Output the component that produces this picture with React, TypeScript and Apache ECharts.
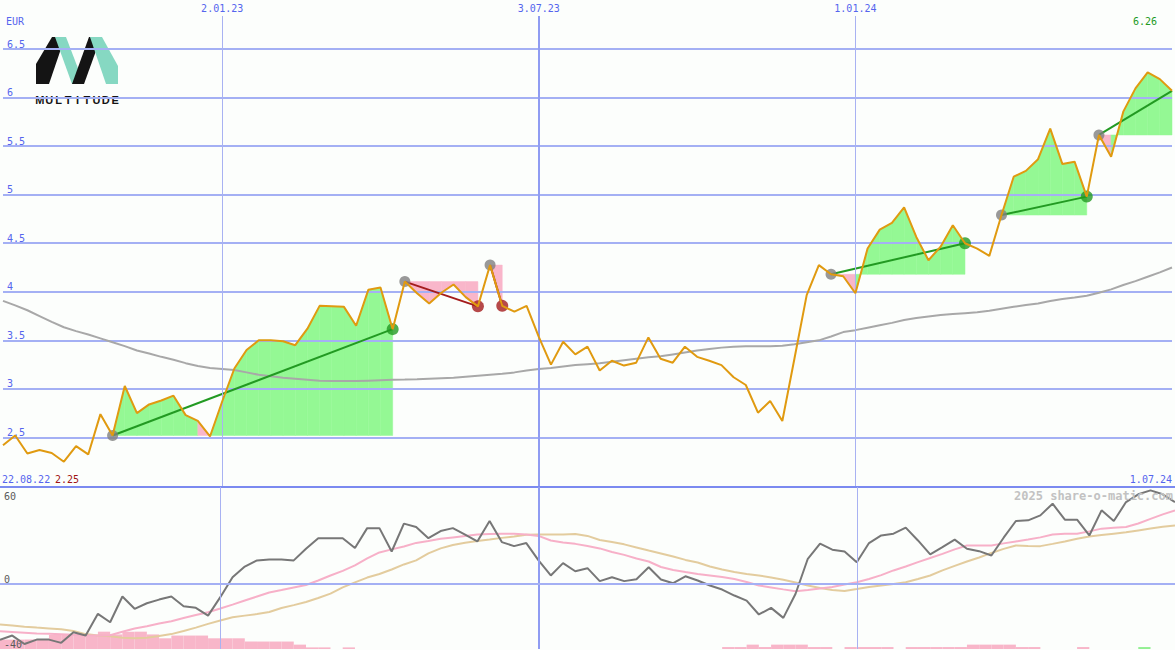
import React, { useEffect, useRef } from "react";
import * as echarts from "echarts";

// ---------- data ----------
const weekMin = 0;
const weekMax = 96;
const dateTickWeeks = [18, 44, 70];
const dateTickLabels = ["2.01.23", "3.07.23", "1.01.24"];
const periodStartLabel = "22.08.22";
const periodEndLabel = "1.07.24";
const currency = "EUR";
const watermark = "2025 share-o-matic.com";
const logoWord = "MULTITUDE";

const priceMin = 2;
const priceMax = 6.84;
const priceStep = 0.5;
const oscMin = -40;
const oscMax = 60;
const oscLabelValues = [-40, 0];
const oscTopLabel = 60;

const prices = [
  2.42, 2.52, 2.335, 2.37, 2.34, 2.25, 2.41, 2.325, 2.74, 2.52,
  3.03, 2.75, 2.84, 2.88, 2.93, 2.73, 2.67, 2.51, 2.87, 3.21,
  3.40, 3.50, 3.50, 3.49, 3.45, 3.62, 3.855, 3.85, 3.845, 3.65,
  4.02, 4.045, 3.615, 4.105, 3.985, 3.88, 3.99, 4.075, 3.945, 3.85,
  4.275, 3.855, 3.795, 3.855, 3.535, 3.25, 3.485, 3.355, 3.435, 3.19,
  3.29, 3.24, 3.27, 3.53, 3.31, 3.27, 3.435, 3.33, 3.29, 3.245,
  3.12, 3.04, 2.755, 2.875, 2.67, 3.315, 3.965, 4.275, 4.18, 4.16,
  3.985, 4.445, 4.64, 4.71, 4.87, 4.565, 4.325, 4.465, 4.685, 4.50,
  4.445, 4.37, 4.79, 5.185, 5.245, 5.365, 5.68, 5.315, 5.34, 4.98,
  5.615, 5.39, 5.855, 6.095, 6.26, 6.19, 6.07,
];

const priceAverage = [
  3.907, 3.86, 3.81, 3.75, 3.69, 3.635, 3.595, 3.56, 3.52, 3.48,
  3.44, 3.395, 3.365, 3.33, 3.30, 3.265, 3.235, 3.215, 3.205, 3.195,
  3.17, 3.145, 3.13, 3.115, 3.105, 3.095, 3.085, 3.08, 3.08, 3.08,
  3.085, 3.09, 3.095, 3.097, 3.10, 3.105, 3.11, 3.115, 3.125, 3.135,
  3.145, 3.155, 3.17, 3.19, 3.205, 3.215, 3.23, 3.245, 3.255, 3.265,
  3.28, 3.295, 3.31, 3.325, 3.335, 3.355, 3.375, 3.395, 3.41, 3.425,
  3.435, 3.44, 3.44, 3.44, 3.445, 3.46, 3.48, 3.50, 3.54, 3.585,
  3.605, 3.63, 3.655, 3.68, 3.71, 3.73, 3.745, 3.76, 3.77, 3.78,
  3.79, 3.805, 3.825, 3.845, 3.865, 3.88, 3.905, 3.925, 3.94, 3.96,
  3.99, 4.025, 4.07, 4.11, 4.155, 4.20, 4.25,
];

const momentum = [
  -34.4, -31.7, -36.9, -34.2, -34.2, -36.2, -29.7, -31.7, -18.3, -23.5,
  -7.6, -15.2, -11.75, -9.5, -7.6, -13.6, -14.6, -19.4, -8.0, 4.3,
  10.9, 14.7, 15.3, 15.3, 14.7, 21.9, 28.4, 28.4, 28.4, 22.3,
  34.6, 34.6, 20.2, 37.4, 35.3, 28.4, 32.8, 34.6, 30.6, 26.4,
  39.0, 26.0, 23.5, 25.4, 14.7, 5.4, 13.0, 8.0, 9.9, 1.9,
  4.3, 1.9, 3.1, 10.5, 2.9, 0.6, 4.9, 2.3, -0.8, -3.3,
  -7.0, -10.1, -18.7, -14.6, -20.8, -5.9, 15.7, 25.0, 21.3, 20.2,
  13.6, 25.4, 30.1, 31.2, 34.9, 27.0, 18.4, 22.9, 27.5, 21.9,
  20.4, 17.7, 28.7, 39.0, 39.4, 42.5, 49.7, 39.8, 39.8, 30.1,
  45.6, 39.0, 50.7, 55.5, 57.9, 55.5, 50.7,
];

const momentumFast = [
  -29.1, -29.5, -29.9, -30.4, -30.6, -30.9, -31.2, -31.5, -31.7, -31.5,
  -29.3, -27.4, -25.9, -24.3, -22.9, -20.9, -19.0, -17.3, -15.0, -12.6,
  -10.1, -7.6, -5.1, -3.6, -2.0, -0.5, 2.3, 5.4, 8.2, 11.6,
  15.9, 19.6, 21.5, 23.3, 25.5, 26.7, 28.0, 28.9, 29.8, 30.7,
  31.0, 31.2, 31.2, 30.7, 29.8, 27.0, 25.8, 24.9, 23.6, 22.1,
  19.9, 18.1, 15.9, 14.0, 10.6, 8.8, 7.5, 6.3, 5.4, 4.5,
  3.2, 1.4, -0.8, -2.0, -3.2, -4.3, -3.6, -2.7, -1.7, -0.2,
  1.2, 3.2, 5.6, 8.5, 10.9, 13.6, 16.2, 18.7, 21.5, 23.9,
  23.9, 23.9, 25.2, 26.4, 27.6, 28.9, 30.7, 31.2, 31.2, 32.6,
  34.3, 34.8, 35.3, 37.5, 40.3, 43.1, 45.6,
];

const momentumSlow = [
  -24.9, -25.5, -26.2, -26.8, -27.3, -27.8, -28.9, -30.8, -31.7, -32.2,
  -33.0, -33.4, -33.0, -32.0, -30.8, -28.9, -26.8, -24.5, -22.4, -20.4,
  -19.4, -18.4, -17.2, -14.7, -12.9, -11.0, -8.5, -5.8, -2.0, 1.1,
  4.1, 6.3, 9.1, 12.2, 14.7, 19.0, 22.1, 24.2, 25.6, 26.7,
  27.6, 28.6, 29.5, 30.5, 30.7, 30.7, 30.7, 31.0, 29.8, 27.3,
  26.1, 24.6, 22.7, 20.8, 19.0, 17.1, 15.0, 13.4, 10.9, 9.1,
  7.5, 6.3, 5.4, 4.1, 2.8, 1.1, -0.8, -2.3, -3.6, -4.2,
  -3.0, -1.7, -0.8, 0.1, 1.2, 3.2, 5.4, 8.5, 11.3, 14.0,
  16.5, 19.3, 21.8, 23.9, 23.6, 23.5, 24.9, 26.4, 28.0, 29.5,
  30.4, 31.2, 32.0, 33.2, 34.4, 35.4, 36.3,
];

// histogram bar tops (bars stand on the panel floor), one per week
const histogram = [
  -34.2, -34.2, -34.2, -34.2, -31.3, -31.3, -31.3, -31.3, -29.3, -31.0,
  -29.3, -29.3, -31.0, -33.4, -31.7, -31.7, -31.7, -33.4, -33.4, -33.4,
  -35.4, -35.4, -35.4, -35.4, -37.3, -39.0, -39.0, null, -39.0, null,
  null, null, null, null, null, null, null, null, null, null,
  null, null, null, null, null, null, null, null, null, null,
  null, null, null, null, null, null, null, null, null, -38.8,
  -38.8, -37.3, -38.8, -37.3, -37.3, -37.3, -38.8, -38.8, null, -38.8,
  -38.8, -38.8, -38.8, null, -38.8, -38.8, -38.8, -38.8, -38.8, -37.3,
  -37.3, -37.3, -37.3, -38.8, -38.8, null, null, null, -38.8, null,
  null, null, null, -38.8, null, null,
];
const histogramUpWeeks = [93];

const tradeEntries = [9, 33, 40, 68, 82, 90];
const tradeExits = [32, 39, 41, 79, 89, 96];
const tradeOpen = [false, false, false, false, false, true];

// ---------- styles ----------
const BG = "#fcfefc";
const GRID = "#a4b0f4";
const GRID_V = "#a8b2f2";
const GRID_V_STRONG = "#8f9cf2";
const SEP = "#7b8af0";
const BLUE_TEXT = "#5565ee";
const GRAY_TEXT = "#5a5a5a";
const MONO = "'DejaVu Sans Mono', monospace";
const PRICE = "#e09a10";
const PRICE_AVG = "#a8a8a8";
const FILL_UP = "#94f894";
const FILL_DOWN = "#f9b6ca";
const WIN = "#229a22";
const LOSS = "#a41c1c";
const ENTRY_DOT = "#808080";
const MOM = "#777777";
const MOM_FAST = "#f7b0c8";
const MOM_SLOW = "#e3cc9e";
const BAR_DOWN = "#f8b6c9";
const BAR_UP = "#92f092";
const TEAL = "#86d8c2";
const INK = "#141414";

const xy = (arr: (number | null)[]) => arr.map((v, i) => [i, v]);

function buildOption(): any {
  const lowest = Math.min(...prices);
  const highest = Math.max(...prices);

  const verticalLines = dateTickWeeks.map((w, k) => ({
    xAxis: w,
    lineStyle: { color: k === 1 ? GRID_V_STRONG : GRID_V, width: k === 1 ? 2 : 1, type: "solid" },
  }));

  const tradeLineSeries = tradeEntries.map((e, k) => {
    const x = tradeExits[k];
    const win = prices[x] >= prices[e];
    return {
      type: "line",
      xAxisIndex: 0,
      yAxisIndex: 0,
      data: [
        [e, prices[e]],
        [x, prices[x]],
      ],
      showSymbol: false,
      silent: true,
      z: 3,
      lineStyle: { color: win ? WIN : LOSS, width: 2 },
    };
  });

  const exitDots = tradeEntries
    .map((e, k) => ({ e, x: tradeExits[k], open: tradeOpen[k] }))
    .filter((t) => !t.open)
    .map((t) => ({
      value: [t.x, prices[t.x]],
      itemStyle: { color: prices[t.x] >= prices[t.e] ? WIN : LOSS },
    }));

  const logoPolys = [
    { pts: [[36, 84], [36, 64], [52, 37], [65, 37], [49, 84]], fill: INK },
    { pts: [[55, 37], [66, 37], [84, 84], [72, 84]], fill: TEAL },
    { pts: [[72, 84], [89, 37], [101, 37], [84, 84]], fill: INK },
    { pts: [[90, 37], [102, 37], [118, 66], [118, 84], [106, 84]], fill: TEAL },
  ];

  const txt = (text: string, x: number, y: number, fill: string, align = "left", extra: any = {}) => ({
    type: "text",
    x,
    y,
    silent: true,
    z: 20,
    style: {
      text,
      fill,
      font: extra.font || `10px ${MONO}`,
      align,
      textAlign: align,
      verticalAlign: "middle",
      textVerticalAlign: "middle",
    },
  });

  const letters = logoWord.split("").map((ch, k) => ({
    type: "text",
    x: 35 + ((k + 0.5) * 85) / logoWord.length,
    y: 100,
    style: {
      text: ch,
      fill: INK,
      font: "bold 11px 'Liberation Sans', sans-serif",
      align: "center",
      textAlign: "center",
      verticalAlign: "middle",
      textVerticalAlign: "middle",
    },
  }));

  return {
    animation: false,
    backgroundColor: BG,
    grid: [
      { left: 0, right: 0, top: 16, height: 470 },
      { left: 0, right: 0, top: 487, height: 162 },
    ],
    xAxis: [
      {
        type: "value",
        gridIndex: 0,
        min: weekMin,
        max: weekMax,
        interval: 2,
        position: "top",
        axisLine: { show: false, onZero: false },
        axisTick: { show: false },
        splitLine: { show: false },
        axisLabel: {
          show: true,
          margin: 3,
          color: BLUE_TEXT,
          fontFamily: MONO,
          fontSize: 10,
          showMinLabel: true,
          showMaxLabel: true,
          formatter: (v: number) => {
            const k = dateTickWeeks.indexOf(v);
            return k >= 0 ? dateTickLabels[k] : "";
          },
        },
      },
      {
        type: "value",
        gridIndex: 1,
        min: weekMin,
        max: weekMax,
        position: "top",
        axisLine: { show: true, onZero: false, lineStyle: { color: SEP, width: 2 } },
        axisTick: { show: false },
        axisLabel: { show: false },
        splitLine: { show: false },
      },
    ],
    yAxis: [
      {
        type: "value",
        gridIndex: 0,
        position: "left",
        min: priceMin,
        max: priceMax,
        interval: priceStep,
        axisLine: { show: false },
        axisTick: { show: false },
        splitLine: { show: true, showMinLine: false, showMaxLine: false, lineStyle: { color: GRID, width: 2 } },
        axisLabel: {
          inside: true,
          margin: 4,
          verticalAlign: "bottom",
          color: BLUE_TEXT,
          fontFamily: MONO,
          fontSize: 10,
          showMaxLabel: false,
          showMinLabel: false,
          formatter: (v: number) => (v > priceMin && v < priceMax ? String(v) : ""),
        },
      },
      {
        type: "value",
        gridIndex: 1,
        position: "left",
        min: oscMin,
        max: oscMax,
        interval: 20,
        axisLine: { show: false },
        axisTick: { show: false },
        splitLine: { show: false },
        axisLabel: {
          inside: true,
          margin: 4,
          verticalAlign: "bottom",
          color: GRAY_TEXT,
          fontFamily: MONO,
          fontSize: 10,
          showMinLabel: true,
          showMaxLabel: true,
          formatter: (v: number) => (oscLabelValues.includes(v) ? String(v) : ""),
        },
      },
      {
        type: "value",
        gridIndex: 1,
        position: "left",
        min: oscMin,
        max: oscMax,
        interval: 20,
        axisLine: { show: false },
        axisTick: { show: false },
        splitLine: { show: false },
        axisLabel: {
          inside: true,
          margin: 4,
          verticalAlign: "top",
          padding: [4, 0, 0, 0],
          color: GRAY_TEXT,
          fontFamily: MONO,
          fontSize: 10,
          showMinLabel: true,
          showMaxLabel: true,
          formatter: (v: number) => (v === oscTopLabel ? String(v) : ""),
        },
      },
    ],
    series: [
      {
        type: "custom",
        xAxisIndex: 0,
        yAxisIndex: 0,
        z: -1,
        silent: true,
        data: tradeEntries.map((e, k) => [e, prices[e], tradeExits[k]]),
        encode: { x: [0, 2], y: 1 },
        renderItem: (params: any, api: any) => {
          const e = tradeEntries[params.dataIndex];
          const x = tradeExits[params.dataIndex];
          const base = prices[e];
          const children: any[] = [];
          for (let k = e; k < x; k++) {
            const a = prices[k];
            const b = prices[k + 1];
            const color = b >= base ? FILL_UP : FILL_DOWN;
            children.push({
              type: "polygon",
              shape: {
                points: [api.coord([k, base]), api.coord([k, a]), api.coord([k + 1, b]), api.coord([k + 1, base])],
              },
              style: { fill: color, stroke: color, lineWidth: 0.5 },
            });
          }
          return { type: "group", children };
        },
      },
      {
        type: "line",
        xAxisIndex: 0,
        yAxisIndex: 0,
        data: xy(priceAverage),
        showSymbol: false,
        silent: true,
        z: 2,
        lineStyle: { color: PRICE_AVG, width: 2 },
        markLine: { symbol: ["none", "none"], silent: true, label: { show: false }, data: verticalLines },
      },
      ...tradeLineSeries,
      {
        type: "scatter",
        xAxisIndex: 0,
        yAxisIndex: 0,
        symbolSize: 11,
        z: 4,
        silent: true,
        itemStyle: { color: ENTRY_DOT },
        data: tradeEntries.map((e) => [e, prices[e]]),
      },
      {
        type: "scatter",
        xAxisIndex: 0,
        yAxisIndex: 0,
        symbolSize: 12,
        z: 4,
        silent: true,
        data: exitDots,
      },
      {
        type: "line",
        xAxisIndex: 0,
        yAxisIndex: 0,
        data: xy(prices),
        showSymbol: false,
        silent: true,
        z: 5,
        lineStyle: { color: PRICE, width: 2 },
      },
      {
        type: "custom",
        xAxisIndex: 1,
        yAxisIndex: 1,
        silent: true,
        z: -1,
        data: xy(histogram).filter((d) => d[1] !== null),
        encode: { x: 0, y: 1 },
        renderItem: (params: any, api: any) => {
          const i = api.value(0);
          const top = api.value(1);
          const p1 = api.coord([i, top]);
          const p2 = api.coord([i + 1, oscMin]);
          return {
            type: "rect",
            shape: { x: p1[0], y: p1[1], width: p2[0] - p1[0], height: p2[1] - p1[1] },
            style: { fill: histogramUpWeeks.includes(i) ? BAR_UP : BAR_DOWN },
          };
        },
      },
      {
        type: "line",
        xAxisIndex: 1,
        yAxisIndex: 1,
        data: xy(momentumSlow),
        showSymbol: false,
        silent: true,
        z: 2,
        lineStyle: { color: MOM_SLOW, width: 2 },
      },
      {
        type: "line",
        xAxisIndex: 1,
        yAxisIndex: 1,
        data: xy(momentumFast),
        showSymbol: false,
        silent: true,
        z: 2,
        lineStyle: { color: MOM_FAST, width: 2 },
      },
      {
        type: "line",
        xAxisIndex: 1,
        yAxisIndex: 1,
        data: xy(momentum),
        showSymbol: false,
        silent: true,
        z: 3,
        lineStyle: { color: MOM, width: 2 },
        markLine: {
          symbol: ["none", "none"],
          silent: true,
          label: { show: false },
          data: [...verticalLines, { yAxis: 0, lineStyle: { color: GRID, width: 2, type: "solid" } }],
        },
      },
    ],
    graphic: [
      txt(currency, 6, 21, BLUE_TEXT),
      txt(periodStartLabel, 2, 479, BLUE_TEXT),
      txt(lowest.toFixed(2), 55, 479, "#a01414"),
      txt(periodEndLabel, 1172, 479, BLUE_TEXT, "right"),
      txt(highest.toFixed(2), 1133, 21, "#1f9a1f"),
      txt(watermark, 1173, 496, "#c2c2c2", "right", { font: `bold 12px ${MONO}` }),
      {
        type: "group",
        z: 30,
        silent: true,
        children: [
          { type: "rect", shape: { x: 34, y: 34, width: 88, height: 73 }, style: { fill: BG } },
          ...logoPolys.map((p) => ({ type: "polygon", shape: { points: p.pts }, style: { fill: p.fill } })),
          ...letters,
        ],
      },
    ],
  };
}

export default function App() {
  const ref = useRef<HTMLDivElement>(null);
  useEffect(() => {
    if (!ref.current) return;
    const chart = echarts.init(ref.current, null, { renderer: "svg" });
    chart.setOption(buildOption());
    return () => chart.dispose();
  }, []);
  return <div ref={ref} style={{ position: "fixed", left: 0, top: 0, width: 1175, height: 650 }} />;
}
